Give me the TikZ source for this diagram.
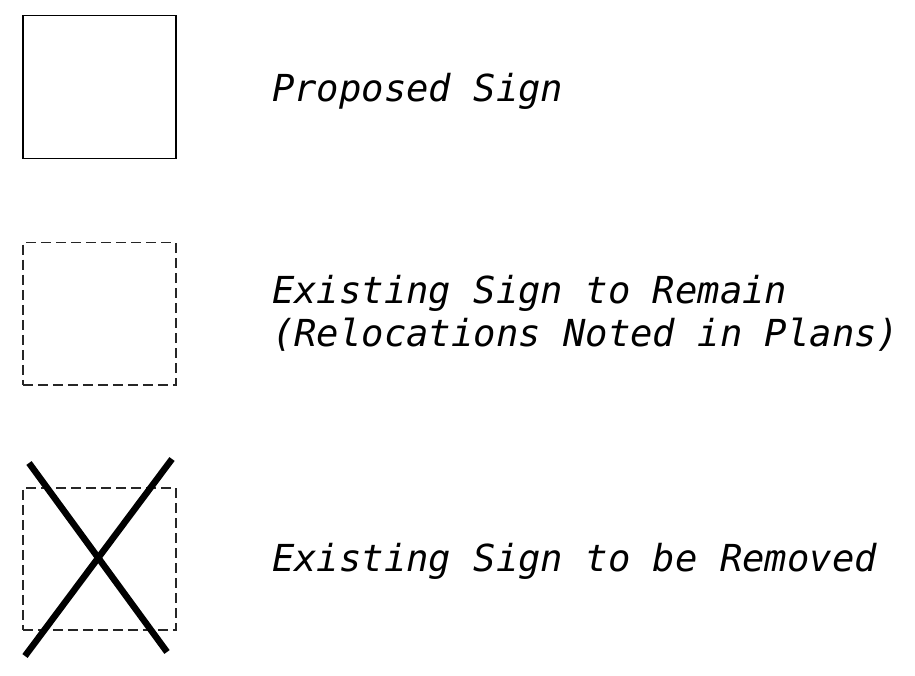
\documentclass[tikz,border=0pt]{standalone}
\usepackage{fontspec}
\setmonofont{DejaVu Sans Mono}
\begin{document}
\begin{tikzpicture}[x=1pt,y=-1pt,
  signbox/.style={draw=black,line width=1.5pt},
  dashbox/.style={draw=black!85,line width=1.5pt,dash pattern=on 10pt off 5pt},
  cross/.style={draw=black,line width=6.5pt},
  label/.style={anchor=base west,inner sep=0pt,align=left,
    font=\fontsize{37.2}{43}\selectfont\ttfamily\itshape}]
\useasboundingbox (0,0) rectangle (915,676);
\node[signbox,minimum width=153pt,minimum height=143pt,anchor=north west,inner sep=0pt] (b1) at (22,15) {};
\node[dashbox,minimum width=153pt,minimum height=142pt,anchor=north west,inner sep=0pt] (b2) at (22,242) {};
\node[dashbox,minimum width=153pt,minimum height=142pt,anchor=north west,inner sep=0pt] (b3) at (22,487) {};
\coordinate (x1a) at (29,463);
\coordinate (x1b) at (167,652);
\coordinate (x2a) at (172,459);
\coordinate (x2b) at (25,656);
\draw[cross] (x1a) -- (x1b);
\draw[cross] (x2a) -- (x2b);
\node[label] (t1) at (272,102) {Proposed Sign};
\node[label] (t2) at (272,346) {Existing Sign to Remain\\(Relocations Noted in Plans)};
\node[label] (t3) at (272,571) {Existing Sign to be Removed};
\end{tikzpicture}
\end{document}
